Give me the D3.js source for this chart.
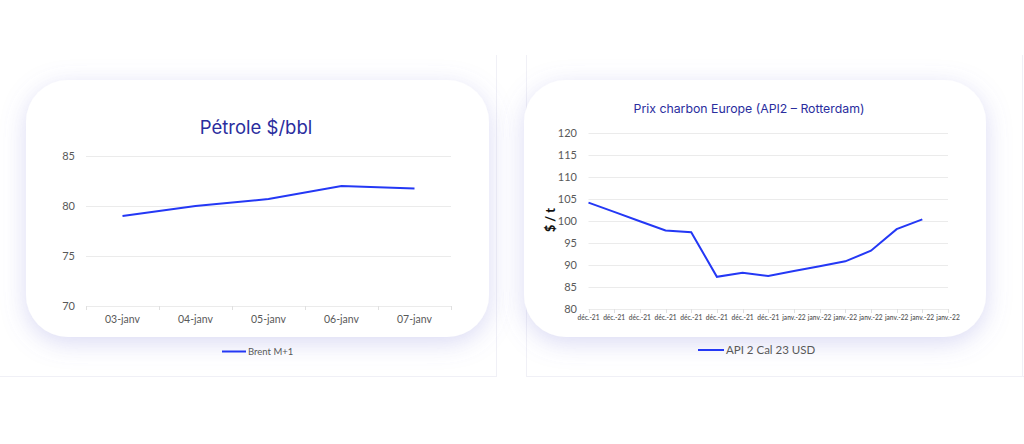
<!DOCTYPE html>
<html>
<head>
<meta charset="utf-8">
<script src="https://cdn.jsdelivr.net/npm/d3@7"></script>
<style>
  html, body { margin: 0; padding: 0; background: #fff; }
  svg { display: block; }
  .tick-label { font-family: Lato, "Open Sans", sans-serif; fill: #595959; }
  .title { font-family: Inter, "Noto Sans", sans-serif; fill: #2a2d9e; font-weight: 400; }
</style>
</head>
<body>
<svg id="chart" width="1024" height="444"></svg>
<script>
// ---------- data ----------
const petroleDates = ["03-janv", "04-janv", "05-janv", "06-janv", "07-janv"];
const brentValues = [79.0, 80.0, 80.7, 82.0, 81.75];
const petroleTicks = [70, 75, 80, 85];

const coalDates = [
  "déc.-21", "déc.-21", "déc.-21", "déc.-21", "déc.-21", "déc.-21", "déc.-21", "déc.-21",
  "janv.-22", "janv.-22", "janv.-22", "janv.-22", "janv.-22", "janv.-22", "janv.-22"
];
const coalValues = [104.1, 102.0, 99.9, 97.8, 97.4, 87.3, 88.2, 87.5, 88.6, 89.7, 90.8, 93.2, 98.1, 100.3];
const coalTicks = [80, 85, 90, 95, 100, 105, 110, 115, 120];

const LINE = "#2438f5";
const GRID = "#ebebeb";

const svg = d3.select("#chart");

// soft lavender shadow for the cards
const defs = svg.append("defs");
defs.append("filter")
  .attr("id", "shadow")
  .attr("x", "-20%").attr("y", "-30%")
  .attr("width", "140%").attr("height", "170%")
  .append("feDropShadow")
  .attr("dx", 0).attr("dy", 6)
  .attr("stdDeviation", 12)
  .attr("flood-color", "#7c7cd6")
  .attr("flood-opacity", 0.28);

/* --- panel frames --- */
const frame = svg.append("g").attr("stroke", "#f0f0f6").attr("stroke-width", 1);
frame.append("line").attr("x1", 496.5).attr("x2", 496.5).attr("y1", 55).attr("y2", 376);
frame.append("line").attr("x1", 526.5).attr("x2", 526.5).attr("y1", 55).attr("y2", 376);
frame.append("line").attr("x1", 0).attr("x2", 497).attr("y1", 376.5).attr("y2", 376.5);
frame.append("line").attr("x1", 526).attr("x2", 1024).attr("y1", 376.5).attr("y2", 376.5);
frame.append("line").attr("x1", 1022.5).attr("x2", 1022.5).attr("y1", 55).attr("y2", 376);

/* --- cards --- */
[[26, 463], [524, 462]].forEach(([x, w]) => {
  svg.append("rect")
    .attr("x", x).attr("y", 80)
    .attr("width", w).attr("height", 257)
    .attr("rx", 42)
    .attr("fill", "#fff")
    .attr("filter", "url(#shadow)");
});

/* ---------- left: Pétrole ---------- */
function drawPetrole() {
  const g = svg.append("g");
  const x = d3.scaleBand().domain(petroleDates).range([86, 451]);
  const y = d3.scaleLinear().domain([70, 85]).range([306, 156]);

  g.append("text").attr("class", "title")
    .attr("x", 256).attr("y", 134)
    .attr("text-anchor", "middle")
    .attr("font-size", 18.5)
    .text("Pétrole $/bbl");

  // gridlines
  g.selectAll(".grid").data(petroleTicks).join("line")
    .attr("x1", 86).attr("x2", 451)
    .attr("y1", (d) => y(d) + 0.5).attr("y2", (d) => y(d) + 0.5)
    .attr("stroke", GRID);

  // category boundary ticks
  const bounds = petroleDates.map((d) => x(d)).concat([451]);
  g.selectAll(".xt").data(bounds).join("line")
    .attr("x1", (d) => d + 0.5).attr("x2", (d) => d + 0.5)
    .attr("y1", 306).attr("y2", 310)
    .attr("stroke", "#e0e0e0");

  g.selectAll(".yl").data(petroleTicks).join("text")
    .attr("class", "tick-label")
    .attr("x", 75).attr("y", (d) => y(d) + 4)
    .attr("text-anchor", "end")
    .attr("font-size", 11)
    .text((d) => d);

  g.selectAll(".xl").data(petroleDates).join("text")
    .attr("class", "tick-label")
    .attr("x", (d) => x(d) + x.bandwidth() / 2).attr("y", 323)
    .attr("text-anchor", "middle")
    .attr("font-size", 10.5)
    .text((d) => d);

  g.append("path")
    .datum(brentValues)
    .attr("fill", "none")
    .attr("stroke", LINE)
    .attr("stroke-width", 2)
    .attr("d", d3.line()
      .x((d, i) => x(petroleDates[i]) + x.bandwidth() / 2)
      .y((d) => y(d)));

  // legend
  g.append("line").attr("x1", 222).attr("x2", 246)
    .attr("y1", 351.5).attr("y2", 351.5)
    .attr("stroke", LINE).attr("stroke-width", 2);
  g.append("text").attr("class", "tick-label")
    .attr("x", 248).attr("y", 355)
    .attr("font-size", 9.5)
    .text("Brent M+1");
}

/* ---------- right: charbon ---------- */
function drawCharbon() {
  const g = svg.append("g");
  const idx = d3.range(coalDates.length);
  const x = d3.scalePoint().domain(idx).range([588.5, 948]);
  const y = d3.scaleLinear().domain([80, 120]).range([309, 132.5]);

  g.append("text").attr("class", "title")
    .attr("x", 749).attr("y", 113)
    .attr("text-anchor", "middle")
    .attr("font-size", 12.3)
    .text("Prix charbon Europe (API2 – Rotterdam)");

  g.selectAll(".grid").data(coalTicks).join("line")
    .attr("x1", 588.5).attr("x2", 948)
    .attr("y1", (d) => Math.round(y(d)) + 0.5).attr("y2", (d) => Math.round(y(d)) + 0.5)
    .attr("stroke", GRID);

  g.selectAll(".xt").data(idx).join("line")
    .attr("x1", (d) => Math.round(x(d)) + 0.5).attr("x2", (d) => Math.round(x(d)) + 0.5)
    .attr("y1", 309).attr("y2", 313)
    .attr("stroke", "#e0e0e0");

  g.selectAll(".yl").data(coalTicks).join("text")
    .attr("class", "tick-label")
    .attr("x", 577).attr("y", (d) => y(d) + 4)
    .attr("text-anchor", "end")
    .attr("font-size", 11)
    .text((d) => d);

  g.selectAll(".xl").data(idx).join("text")
    .attr("class", "tick-label")
    .attr("x", (d) => x(d)).attr("y", 319.5)
    .attr("text-anchor", "middle")
    .attr("font-size", 6.6)
    .attr("font-weight", 600)
    .text((d) => coalDates[d]);

  g.append("text")
    .attr("transform", "translate(555,220) rotate(-90)")
    .attr("text-anchor", "middle")
    .attr("font-family", "Lato, 'Open Sans', sans-serif")
    .attr("font-weight", 900)
    .attr("font-size", 12.5)
    .attr("fill", "#111")
    .text("$ / t");

  g.append("path")
    .datum(coalValues)
    .attr("fill", "none")
    .attr("stroke", LINE)
    .attr("stroke-width", 2)
    .attr("d", d3.line().x((d, i) => x(i)).y((d) => y(d)));

  // legend
  g.append("line").attr("x1", 698).attr("x2", 724)
    .attr("y1", 350).attr("y2", 350)
    .attr("stroke", LINE).attr("stroke-width", 2);
  g.append("text").attr("class", "tick-label")
    .attr("x", 726).attr("y", 354)
    .attr("font-size", 11.5)
    .text("API 2 Cal 23 USD");
}

drawPetrole();
drawCharbon();
</script>
</body>
</html>
